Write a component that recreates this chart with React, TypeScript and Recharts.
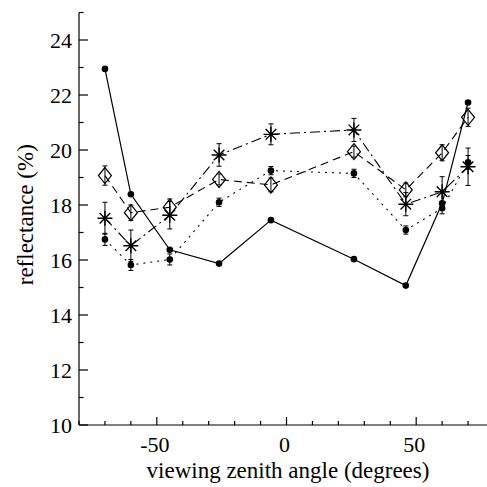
import React from "react";
import { LineChart, Line, XAxis, YAxis, ErrorBar } from "recharts";

const angles = [-70, -60, -45, -26, -6, 26, 46, 60, 70];
const solid = [22.95, 18.39, 16.37, 15.87, 17.45, 16.03, 15.07, 18.06, 21.73];
const dotted = [16.75, 15.82, 16.02, 18.1, 19.25, 19.15, 17.09, 17.88, 19.55];
const dottedErr = [0.22, 0.2, 0.2, 0.15, 0.15, 0.15, 0.15, 0.2, 0.25];
const diamond = [19.07, 17.72, 17.92, 18.93, 18.73, 19.94, 18.55, 19.9, 21.19];
const diamondErr = [0.35, 0.28, 0.3, 0.2, 0.25, 0.2, 0.25, 0.29, 0.33];
const star = [17.52, 16.52, 17.63, 19.82, 20.57, 20.73, 18.03, 18.48, 19.39];
const starErr = [0.58, 0.57, 0.5, 0.41, 0.38, 0.42, 0.42, 0.55, 0.68];

const xTicks = [-80, -70, -60, -50, -40, -30, -20, -10, 0, 10, 20, 30, 40, 50, 60, 70, 80];
const xLabels = [-50, 0, 50];
const yTicks = [10, 11, 12, 13, 14, 15, 16, 17, 18, 19, 20, 21, 22, 23, 24, 25];
const yLabels = [10, 12, 14, 16, 18, 20, 22, 24];

const data = angles.map((a, i) => ({
  angle: a,
  solid: solid[i],
  dotted: dotted[i],
  dottedErr: dottedErr[i],
  diamond: diamond[i],
  diamondErr: diamondErr[i],
  star: star[i],
  starErr: starErr[i],
}));

const FONT = "Liberation Serif, Times New Roman, Times, serif";
const INK = "#000";
const txt = { fontFamily: FONT, fill: INK };

const BottomTick = (p: any) => {
  const major = xLabels.includes(p.payload.value);
  return (
    <g>
      <line x1={p.x} y1={p.y} x2={p.x} y2={p.y - (major ? 8 : 4)} stroke={INK} strokeWidth={1.2} />
      {major && (
        <text x={p.x - 2} y={p.y + 27} textAnchor="middle" fontSize={22} style={txt}>
          {p.payload.value}
        </text>
      )}
    </g>
  );
};

const TopTick = (p: any) => {
  const major = xLabels.includes(p.payload.value);
  return <line x1={p.x} y1={p.y} x2={p.x} y2={p.y + (major ? 8 : 4)} stroke={INK} strokeWidth={1.2} />;
};

const LeftTick = (p: any) => {
  const major = yLabels.includes(p.payload.value);
  return (
    <g>
      <line x1={p.x} y1={p.y} x2={p.x + (major ? 9 : 4.5)} y2={p.y} stroke={INK} strokeWidth={1.2} />
      {major && (
        <text x={p.x - 7} y={p.y} dy="0.35em" textAnchor="end" fontSize={22} style={txt}>
          {p.payload.value}
        </text>
      )}
    </g>
  );
};

const RightTick = (p: any) => {
  const major = yLabels.includes(p.payload.value);
  return <line x1={p.x} y1={p.y} x2={p.x - (major ? 9 : 4.5)} y2={p.y} stroke={INK} strokeWidth={1.2} />;
};

const XTitle = (p: any) => {
  const vb = p.viewBox || { x: 79, y: 425, width: 415, height: 62 };
  return (
    <text x={vb.x + 209} y={vb.y + 53} textAnchor="middle" fontSize={23} style={txt}>
      viewing zenith angle (degrees)
    </text>
  );
};

const YTitle = (p: any) => {
  const vb = p.viewBox || { x: 0, y: 12.5, width: 79, height: 412.5 };
  const x = vb.x + 33;
  const y = vb.y + vb.height / 2 - 4;
  return (
    <text x={x} y={y} transform={`rotate(-90, ${x}, ${y})`} textAnchor="middle" fontSize={23} style={txt}>
      reflectance (%)
    </text>
  );
};

const Circle = (p: any) => (
  <circle key={`c-${p.dataKey}-${p.index}`} cx={p.cx} cy={p.cy} r={3.3} fill={INK} stroke="none" />
);

const Diamond = (p: any) => (
  <path
    key={`d-${p.index}`}
    d={`M${p.cx},${p.cy - 8} L${p.cx + 6.5},${p.cy} L${p.cx},${p.cy + 8} L${p.cx - 6.5},${p.cy} Z`}
    fill="none"
    stroke={INK}
    strokeWidth={1.2}
  />
);

const Star = (p: any) => {
  const s = 7.5;
  const d = 5.3;
  return (
    <path
      key={`s-${p.index}`}
      d={`M${p.cx - s},${p.cy} L${p.cx + s},${p.cy} M${p.cx},${p.cy - s} L${p.cx},${p.cy + s} M${p.cx - d},${p.cy - d} L${p.cx + d},${p.cy + d} M${p.cx - d},${p.cy + d} L${p.cx + d},${p.cy - d}`}
      fill="none"
      stroke={INK}
      strokeWidth={1.4}
    />
  );
};

export default function App() {
  return (
    <div
      style={{
        position: "fixed",
        left: 0,
        top: 0,
        width: 487,
        height: 487,
        overflow: "hidden",
        background: "#fff",
        fontFamily: FONT,
      }}
    >
      <LineChart width={500} height={487} data={data} margin={{ top: 12.5, right: 6, bottom: 0, left: 0 }}>
        <XAxis
          dataKey="angle"
          type="number"
          domain={[-80, 80]}
          ticks={xTicks}
          interval={0}
          tickSize={0}
          tickMargin={0}
          tick={<BottomTick />}
          axisLine={{ stroke: INK, strokeWidth: 1.2 }}
          height={62}
          label={<XTitle />}
        />
        <XAxis
          xAxisId="top"
          orientation="top"
          dataKey="angle"
          type="number"
          domain={[-80, 80]}
          ticks={xTicks}
          interval={0}
          tickSize={0}
          tickMargin={0}
          tick={<TopTick />}
          axisLine={{ stroke: INK, strokeWidth: 1.2 }}
          height={0}
        />
        <YAxis
          type="number"
          domain={[10, 25]}
          ticks={yTicks}
          interval={0}
          tickSize={0}
          tickMargin={0}
          tick={<LeftTick />}
          axisLine={{ stroke: INK, strokeWidth: 1.2 }}
          width={79}
          label={<YTitle />}
        />
        <YAxis
          yAxisId="right"
          orientation="right"
          type="number"
          domain={[10, 25]}
          ticks={yTicks}
          interval={0}
          tickSize={0}
          tickMargin={0}
          tick={<RightTick />}
          axisLine={{ stroke: INK, strokeWidth: 1.2 }}
          width={0}
        />

        <Line
          dataKey="dotted"
          stroke={INK}
          strokeWidth={1.1}
          strokeDasharray="2 5"
          dot={Circle}
          activeDot={false}
          isAnimationActive={false}
        >
          <ErrorBar dataKey="dottedErr" width={2.5} stroke={INK} strokeWidth={1} direction="y" />
        </Line>
        <Line
          dataKey="diamond"
          stroke={INK}
          strokeWidth={1.1}
          strokeDasharray="8 5"
          dot={Diamond}
          activeDot={false}
          isAnimationActive={false}
        >
          <ErrorBar dataKey="diamondErr" width={2.5} stroke={INK} strokeWidth={1} direction="y" />
        </Line>
        <Line
          dataKey="star"
          stroke={INK}
          strokeWidth={1.1}
          strokeDasharray="10 4 2 4"
          dot={Star}
          activeDot={false}
          isAnimationActive={false}
        >
          <ErrorBar dataKey="starErr" width={2.5} stroke={INK} strokeWidth={1} direction="y" />
        </Line>
        <Line
          dataKey="solid"
          stroke={INK}
          strokeWidth={1.2}
          dot={Circle}
          activeDot={false}
          isAnimationActive={false}
        />
      </LineChart>
    </div>
  );
}
